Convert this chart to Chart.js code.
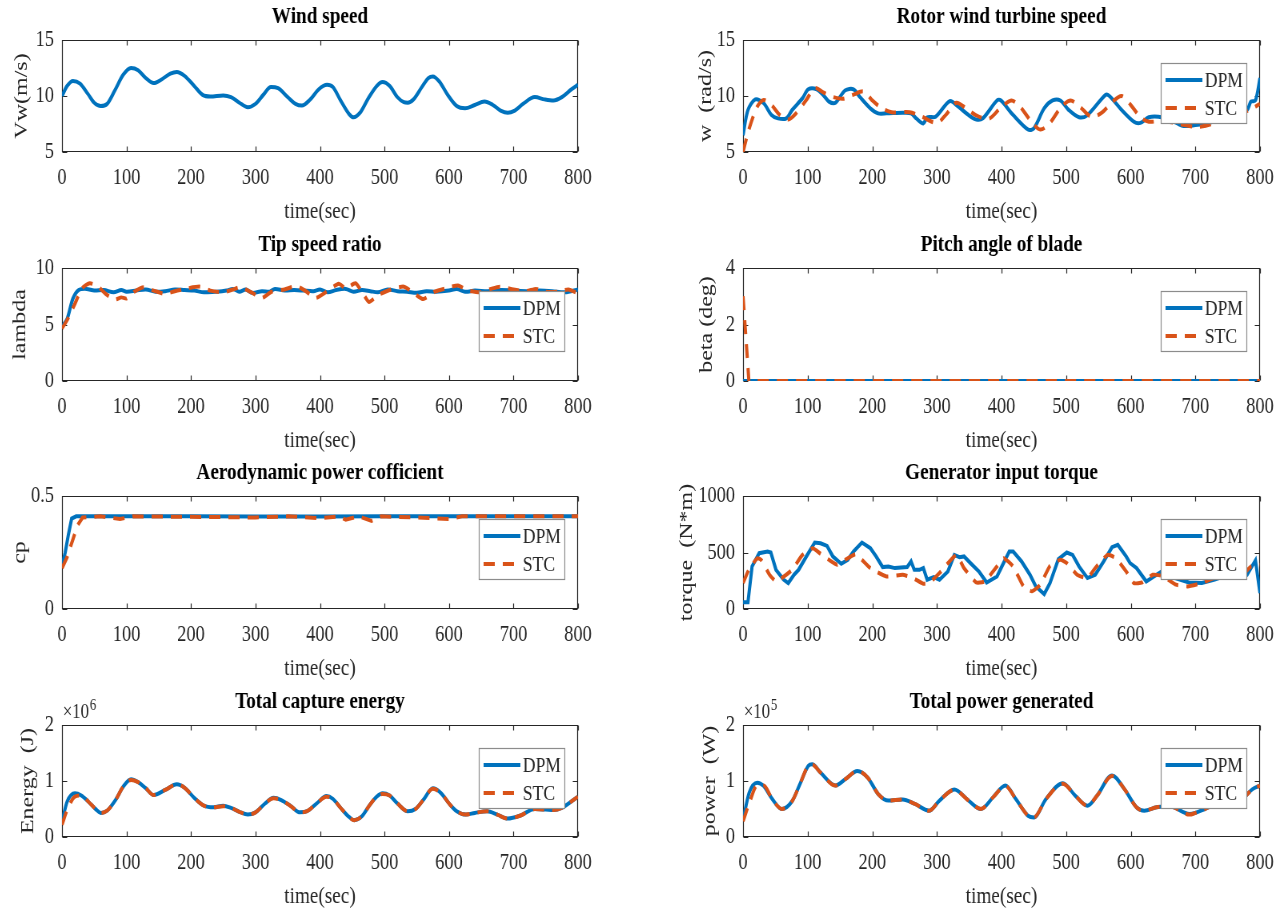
<!DOCTYPE html>
<html>
<head>
<meta charset="utf-8">
<script src="https://cdn.jsdelivr.net/npm/chart.js@4.4.1/dist/chart.umd.min.js"></script>
<style>
  html, body { margin: 0; padding: 0; background: #fff; overflow: hidden; width: 1283px; height: 909px; }
  canvas { position: absolute; }
</style>
</head>
<body>
<script>
// ---- data ----
const xTickValues = [0, 100, 200, 300, 400, 500, 600, 700, 800];

// wind speed
const windTime = [0, 8, 17, 28, 40, 50, 60, 70, 82, 95, 107, 118, 130, 142, 155, 168, 178, 190, 205, 218, 230, 250, 262, 275, 288, 300, 312, 324, 335, 350, 362, 372, 385, 398, 411, 420, 432, 445, 452, 462, 475, 488, 497, 508, 520, 530, 536, 545, 558, 568, 575, 585, 598, 612, 625, 640, 655, 668, 680, 691, 702, 715, 733, 748, 762, 775, 790, 800];
const windSpeed = [10.0, 10.9, 11.35, 11.1, 10.2, 9.4, 9.1, 9.3, 10.5, 11.9, 12.5, 12.3, 11.6, 11.15, 11.5, 12.0, 12.15, 11.8, 10.9, 10.1, 9.95, 10.05, 9.9, 9.4, 9.0, 9.3, 10.1, 10.8, 10.7, 9.9, 9.3, 9.15, 9.7, 10.6, 11.0, 10.8, 9.6, 8.4, 8.1, 8.5, 9.8, 10.9, 11.25, 10.9, 9.9, 9.45, 9.4, 9.7, 10.8, 11.6, 11.75, 11.3, 10.1, 9.1, 8.9, 9.2, 9.5, 9.2, 8.7, 8.5, 8.7, 9.3, 9.9, 9.7, 9.6, 9.9, 10.6, 11.0];
const windTicks = [5, 10, 15];

// rotor speed
const rotorTimeDpm = [0, 7.6, 19, 32, 44, 54, 67, 76, 92, 101, 114, 124, 133, 143, 158, 171, 181, 197, 209, 222, 247, 260, 268, 279, 285, 298, 320, 333, 349, 361, 371, 393, 399, 418, 441, 450, 466, 479, 491, 504, 520, 533, 561, 567, 586, 605, 615, 628, 643, 660, 680, 700, 716, 740, 760, 780, 786, 793, 800];
const rotorDpm = [6.5, 8.75, 9.7, 9.35, 8.3, 8.0, 8.0, 8.75, 9.8, 10.6, 10.6, 10.1, 9.5, 9.4, 10.5, 10.6, 9.9, 8.9, 8.45, 8.45, 8.5, 8.45, 8.0, 7.55, 8.1, 8.15, 9.55, 9.05, 8.3, 7.9, 8.0, 9.6, 9.6, 8.3, 7.0, 7.1, 8.9, 9.6, 9.6, 8.75, 8.1, 8.3, 10.1, 10.0, 8.75, 7.7, 7.6, 8.1, 8.15, 7.9, 7.35, 7.4, 7.55, 7.9, 8.3, 8.75, 9.5, 9.6, 11.6];
const rotorTimeStc = [0, 9, 22, 32, 44, 57, 70, 82, 98, 111, 125, 140, 155, 170, 187, 200, 215, 230, 258, 275, 300, 315, 330, 345, 360, 380, 398, 415, 428, 445, 460, 475, 492, 507, 522, 539, 555, 572, 586, 600, 615, 628, 650, 675, 700, 716, 740, 765, 785, 800];
const rotorStc = [5.0, 7.0, 9.05, 9.65, 9.2, 8.3, 7.9, 8.45, 9.65, 10.7, 10.3, 9.9, 9.75, 10.1, 10.4, 9.6, 8.9, 8.55, 8.55, 8.2, 7.6, 8.4, 9.4, 8.9, 8.3, 7.95, 8.9, 9.6, 9.1, 7.8, 7.0, 7.6, 9.0, 9.6, 9.0, 8.15, 8.5, 9.5, 10.0, 9.2, 8.1, 7.7, 7.8, 7.5, 7.25, 7.35, 7.8, 8.3, 8.8, 9.3];
const rotorTicks = [5, 10, 15];

// tip speed ratio
const tsrTimeDpm = [0, 8, 17, 26, 38, 50, 65, 80, 92, 100, 115, 130, 145, 160, 175, 190, 205, 220, 240, 255, 265, 275, 285, 295, 310, 322, 330, 345, 360, 375, 390, 400, 412, 425, 440, 452, 465, 478, 490, 505, 520, 535, 550, 565, 580, 600, 612, 625, 640, 660, 680, 700, 720, 740, 760, 780, 800];
const tsrDpm = [4.8, 5.5, 7.3, 8.05, 8.15, 8.0, 8.05, 7.85, 8.05, 7.9, 8.0, 8.1, 7.9, 7.95, 8.1, 8.05, 8.0, 7.85, 7.9, 8.0, 8.15, 7.9, 8.1, 7.8, 7.95, 7.9, 8.15, 8.0, 8.05, 8.0, 7.95, 8.1, 7.85, 8.05, 8.15, 7.9, 8.05, 7.95, 7.85, 8.1, 7.95, 7.9, 7.8, 7.95, 7.9, 8.0, 8.15, 7.9, 8.0, 7.95, 8.05, 8.0, 7.95, 8.0, 7.95, 7.85, 8.1];
const tsrTimeStc = [0, 8, 19, 31, 43, 55, 68, 82, 92, 100, 112, 127, 142, 160, 175, 195, 214, 230, 250, 265, 277, 295, 310, 325, 345, 363, 378, 393, 410, 429, 440, 455, 466, 476, 490, 510, 530, 545, 560, 578, 595, 614, 630, 650, 665, 679, 700, 720, 735, 750, 770, 785, 800];
const tsrStc = [4.65, 5.4, 6.7, 8.2, 8.65, 8.4, 7.7, 7.2, 7.4, 7.3, 7.9, 8.3, 8.0, 7.7, 7.95, 8.2, 8.35, 8.0, 7.85, 8.1, 8.3, 7.8, 7.35, 7.9, 8.1, 8.4, 7.95, 7.35, 7.9, 8.6, 8.2, 8.65, 7.8, 7.0, 7.6, 8.1, 8.35, 7.8, 7.25, 7.9, 8.2, 8.45, 8.0, 7.85, 8.15, 8.35, 8.1, 7.95, 8.15, 7.9, 7.9, 8.1, 7.75];
const tsrTicks = [0, 5, 10];

// pitch angle
const pitchTimeDpm = [0, 800];
const pitchDpm = [0, 0];
const pitchTimeStc = [0, 7.6, 9, 800];
const pitchStc = [3.0, 0.5, 0, 0];
const pitchTicks = [0, 2, 4];

// power coefficient
const cpTimeDpm = [0, 5, 10, 15, 22, 100, 200, 300, 400, 500, 600, 700, 800];
const cpDpm = [0.19, 0.25, 0.33, 0.40, 0.41, 0.41, 0.41, 0.409, 0.409, 0.41, 0.41, 0.41, 0.41];
const cpTimeStc = [0, 8, 16, 24, 32, 60, 90, 110, 200, 300, 350, 400, 430, 440, 460, 480, 495, 550, 600, 620, 800];
const cpStc = [0.18, 0.23, 0.30, 0.37, 0.405, 0.41, 0.398, 0.41, 0.408, 0.405, 0.41, 0.402, 0.41, 0.395, 0.41, 0.39, 0.41, 0.405, 0.398, 0.41, 0.41];
const cpTicks = [0, 0.5];

// generator torque
const torqueTimeDpm = [0, 7.6, 14, 25, 38, 43, 51, 63, 70, 79, 86, 98, 111, 120, 130, 139, 152, 162, 171, 184, 197, 206, 216, 225, 235, 254, 260, 265, 273, 279, 285, 295, 304, 317, 327, 335, 342, 352, 365, 377, 393, 403, 412, 418, 431, 444, 453, 466, 475, 488, 501, 510, 520, 533, 545, 558, 571, 580, 593, 599, 609, 624, 640, 650, 665, 690, 710, 730, 750, 765, 780, 793, 800];
const torqueDpm = [59, 59, 376, 494, 509, 500, 347, 259, 229, 303, 347, 465, 588, 582, 559, 465, 400, 435, 509, 588, 538, 465, 371, 376, 362, 371, 421, 347, 347, 362, 259, 282, 259, 332, 479, 459, 465, 406, 332, 235, 288, 406, 509, 509, 421, 303, 200, 132, 229, 441, 500, 479, 376, 274, 303, 421, 547, 568, 465, 406, 362, 244, 303, 340, 280, 235, 230, 260, 300, 310, 303, 430, 141];
const torqueTimeStc = [0, 9, 22, 28, 41, 51, 60, 76, 92, 108, 120, 133, 146, 158, 174, 184, 197, 222, 247, 263, 279, 288, 304, 330, 342, 361, 374, 393, 403, 418, 434, 447, 460, 475, 491, 501, 517, 533, 545, 564, 577, 593, 605, 618, 634, 650, 670, 688, 710, 729, 750, 773, 786, 800];
const torqueStc = [229, 347, 450, 435, 303, 244, 274, 347, 479, 538, 488, 435, 391, 435, 485, 435, 362, 288, 303, 274, 224, 229, 318, 479, 362, 235, 244, 376, 450, 376, 200, 156, 215, 382, 435, 406, 303, 274, 362, 479, 450, 332, 229, 235, 303, 290, 215, 200, 230, 274, 290, 303, 376, 391];
const torqueTicks = [0, 500, 1000];

// total capture energy (J)
const energyTime = [0, 8, 20, 30, 41, 52, 60, 70, 83, 95, 107, 118, 130, 142, 160, 178, 190, 205, 220, 235, 250, 262, 275, 288, 300, 315, 328, 340, 355, 369, 380, 395, 410, 420, 432, 445, 453, 465, 477, 488, 497, 508, 520, 536, 548, 560, 575, 588, 600, 612, 626, 640, 659, 675, 691, 710, 733, 750, 762, 775, 788, 800];
const energyDpm = [0.27e6, 0.63e6, 0.78e6, 0.74e6, 0.63e6, 0.50e6, 0.43e6, 0.47e6, 0.66e6, 0.90e6, 1.03e6, 0.98e6, 0.87e6, 0.75e6, 0.84e6, 0.94e6, 0.88e6, 0.70e6, 0.56e6, 0.53e6, 0.56e6, 0.52e6, 0.45e6, 0.40e6, 0.44e6, 0.60e6, 0.70e6, 0.66e6, 0.55e6, 0.44e6, 0.46e6, 0.60e6, 0.73e6, 0.68e6, 0.52e6, 0.36e6, 0.30e6, 0.37e6, 0.57e6, 0.72e6, 0.78e6, 0.74e6, 0.60e6, 0.46e6, 0.50e6, 0.66e6, 0.87e6, 0.78e6, 0.60e6, 0.46e6, 0.40e6, 0.43e6, 0.46e6, 0.40e6, 0.33e6, 0.38e6, 0.50e6, 0.49e6, 0.48e6, 0.52e6, 0.62e6, 0.72e6];
const energyStc = [0.22e6, 0.48e6, 0.72e6, 0.74e6, 0.63e6, 0.50e6, 0.43e6, 0.47e6, 0.66e6, 0.90e6, 1.02e6, 0.98e6, 0.87e6, 0.75e6, 0.84e6, 0.94e6, 0.88e6, 0.70e6, 0.56e6, 0.53e6, 0.55e6, 0.52e6, 0.45e6, 0.40e6, 0.44e6, 0.60e6, 0.69e6, 0.66e6, 0.55e6, 0.44e6, 0.46e6, 0.60e6, 0.72e6, 0.68e6, 0.52e6, 0.36e6, 0.30e6, 0.37e6, 0.57e6, 0.72e6, 0.77e6, 0.74e6, 0.60e6, 0.46e6, 0.50e6, 0.66e6, 0.86e6, 0.78e6, 0.60e6, 0.46e6, 0.40e6, 0.43e6, 0.46e6, 0.40e6, 0.33e6, 0.38e6, 0.50e6, 0.49e6, 0.48e6, 0.52e6, 0.62e6, 0.72e6];
const energyTicks = [0, 1e6, 2e6];

// total power generated (W)
const powerTime = [0, 9.5, 22, 32, 44, 60, 76, 89, 101, 107, 120, 143, 158, 177, 193, 209, 225, 247, 266, 288, 304, 327, 349, 368, 387, 406, 422, 441, 450, 469, 495, 514, 533, 548, 571, 590, 609, 621, 640, 660, 691, 700, 715, 733, 750, 762, 775, 788, 800];
const powerDpm = [0.30e5, 0.79e5, 0.97e5, 0.91e5, 0.70e5, 0.50e5, 0.64e5, 0.97e5, 1.27e5, 1.30e5, 1.15e5, 0.92e5, 1.03e5, 1.18e5, 1.06e5, 0.77e5, 0.65e5, 0.67e5, 0.59e5, 0.47e5, 0.65e5, 0.85e5, 0.65e5, 0.50e5, 0.71e5, 0.92e5, 0.68e5, 0.38e5, 0.35e5, 0.68e5, 0.96e5, 0.74e5, 0.56e5, 0.74e5, 1.10e5, 0.86e5, 0.53e5, 0.47e5, 0.53e5, 0.55e5, 0.41e5, 0.43e5, 0.50e5, 0.58e5, 0.57e5, 0.60e5, 0.70e5, 0.85e5, 0.92e5];
const powerStc = [0.28e5, 0.60e5, 0.92e5, 0.92e5, 0.70e5, 0.50e5, 0.64e5, 0.97e5, 1.27e5, 1.29e5, 1.15e5, 0.92e5, 1.03e5, 1.18e5, 1.06e5, 0.77e5, 0.65e5, 0.67e5, 0.59e5, 0.47e5, 0.65e5, 0.84e5, 0.65e5, 0.50e5, 0.71e5, 0.91e5, 0.68e5, 0.38e5, 0.35e5, 0.68e5, 0.95e5, 0.74e5, 0.56e5, 0.74e5, 1.09e5, 0.86e5, 0.53e5, 0.47e5, 0.53e5, 0.55e5, 0.40e5, 0.43e5, 0.50e5, 0.58e5, 0.57e5, 0.60e5, 0.70e5, 0.85e5, 0.92e5];
const powerTicks = [0, 1e5, 2e5];

// ---- layout / style ----
const BLUE = '#0072BD', ORANGE = '#D95319', INK = '#262626';
const SERIF = "'Liberation Serif', 'Times New Roman', Times, serif";
// the figure is squeezed sideways: draw wide, show narrow
const SX = 0.8;
const AXIS_W = 100;            // internal px, 80 px on screen
const TITLE_H = 40, XAXIS_H = 75;
const COLS = [{ left: 62, right: 578 }, { left: 743, right: 1260 }];
const ROWS = [{ top: 40, bottom: 152 }, { top: 268, bottom: 381 }, { top: 496, bottom: 609 }, { top: 725, bottom: 837 }];

function pts(ts, vs) { return ts.map((t, i) => ({ x: t, y: vs[i] })); }

function series(label, ts, vs, smooth) {
  const ds = {
    label: label, data: pts(ts, vs), yAxisID: 'y', borderWidth: 4, pointRadius: 0, fill: false,
    borderColor: label === 'STC' ? ORANGE : BLUE,
    order: label === 'STC' ? 1 : 2
  };
  if (label === 'STC') ds.borderDash = [14, 10];
  if (smooth === 'monotone') ds.cubicInterpolationMode = 'monotone';
  else ds.tension = smooth || 0;
  return ds;
}

// box, inward ticks, legend and exponent, MATLAB style
const axesBox = {
  id: 'axesBox',
  beforeDatasetsDraw(chart) {
    const { ctx, chartArea: a, scales } = chart;
    const L = Math.round(a.left) + 0.5, R = Math.round(a.right) - 0.5;
    const T = Math.round(a.top) + 0.5, B = Math.round(a.bottom) - 0.5;
    ctx.save();
    ctx.strokeStyle = INK;
    ctx.lineWidth = 1.2;
    ctx.beginPath();
    ctx.rect(L, T, R - L, B - T);
    scales.x.ticks.forEach(t => {
      const px = Math.round(scales.x.getPixelForValue(t.value)) + 0.5;
      ctx.moveTo(px, B); ctx.lineTo(px, B - 5);
      ctx.moveTo(px, T); ctx.lineTo(px, T + 5);
    });
    scales.y.ticks.forEach(t => {
      const py = Math.round(scales.y.getPixelForValue(t.value)) + 0.5;
      ctx.moveTo(L, py); ctx.lineTo(L + 6, py);
      ctx.moveTo(R, py); ctx.lineTo(R - 6, py);
    });
    ctx.stroke();
    ctx.restore();
  },
  afterDatasetsDraw(chart, args, opts) {
    const { ctx, chartArea: a } = chart;
    ctx.save();
    if (opts.exponent) {
      ctx.fillStyle = INK;
      ctx.textAlign = 'left';
      ctx.textBaseline = 'alphabetic';
      ctx.font = '21px ' + SERIF;
      ctx.fillText('\u00d710', a.left + 1, a.top - 7);
      const w = ctx.measureText('\u00d710').width;
      ctx.font = '16px ' + SERIF;
      ctx.fillText(opts.exponent, a.left + 2 + w, a.top - 15);
    }
    if (opts.legend) {
      const bw = 108, bh = 61;
      const bx = Math.round(a.right) - 16 - bw, by = Math.round(a.top) + 23;
      ctx.fillStyle = '#fff';
      ctx.fillRect(bx, by, bw, bh);
      ctx.strokeStyle = '#8c8c8c';
      ctx.lineWidth = 1.2;
      ctx.strokeRect(bx + 0.5, by + 0.5, bw - 1, bh - 1);
      chart.data.datasets.forEach((ds, i) => {
        const cy = by + 17 + i * 28;
        ctx.strokeStyle = ds.borderColor;
        ctx.lineWidth = ds.borderWidth;
        ctx.setLineDash(ds.borderDash || []);
        ctx.beginPath();
        ctx.moveTo(bx + 6, cy);
        ctx.lineTo(bx + 52, cy);
        ctx.stroke();
        ctx.setLineDash([]);
        ctx.fillStyle = INK;
        ctx.font = '22px ' + SERIF;
        ctx.textAlign = 'left';
        ctx.textBaseline = 'middle';
        ctx.fillText(ds.label, bx + 55, cy + 1);
      });
    }
    ctx.restore();
  }
};

function panel(col, row, cfg) {
  const c = COLS[col], r = ROWS[row];
  const plotW = Math.round((c.right - c.left) / SX);
  const w = plotW + 2 * AXIS_W;
  const h = TITLE_H + (r.bottom - r.top) + XAXIS_H;
  const cv = document.createElement('canvas');
  cv.width = w;
  cv.height = h;
  cv.style.left = (c.left - AXIS_W * SX) + 'px';
  cv.style.top = (r.top - TITLE_H) + 'px';
  cv.style.width = (w * SX) + 'px';
  cv.style.height = h + 'px';
  document.body.appendChild(cv);

  const div = cfg.div || 1;
  const yFont = 24;
  const yCenter = (80 - cfg.yGap) / SX;
  new Chart(cv, {
    type: 'line',
    data: { datasets: cfg.datasets },
    options: {
      responsive: false,
      animation: false,
      devicePixelRatio: 1,
      layout: { padding: 0 },
      plugins: {
        legend: { display: false },
        tooltip: { enabled: false },
        title: {
          display: true, text: cfg.title, color: '#000',
          font: { family: SERIF, size: 24, weight: 'bold' },
          padding: { top: 2.6, bottom: 8.6 }
        },
        axesBox: { legend: cfg.legend !== false, exponent: cfg.exponent }
      },
      scales: {
        x: {
          type: 'linear', min: 0, max: 800,
          afterFit: s => { s.height = XAXIS_H; },
          afterBuildTicks: s => { s.ticks = xTickValues.map(v => ({ value: v })); },
          ticks: { padding: 12.2, color: INK, font: { family: SERIF, size: 23 }, maxRotation: 0, autoSkip: false },
          grid: { display: false, drawTicks: false },
          border: { display: false },
          title: { display: true, text: 'time(sec)', color: INK, font: { family: SERIF, size: 24 }, padding: { top: 0, bottom: 0.6 } }
        },
        y: {
          type: 'linear', position: 'left', min: cfg.ticks[0], max: cfg.ticks[cfg.ticks.length - 1],
          afterFit: s => { s.width = AXIS_W; },
          afterBuildTicks: s => { s.ticks = cfg.ticks.map(v => ({ value: v })); },
          ticks: { padding: 10, color: INK, font: { family: SERIF, size: 23 }, callback: v => String(Math.round(v / div * 100) / 100) },
          grid: { display: false, drawTicks: false },
          border: { display: false },
          title: {
            display: true, text: cfg.yLabel, color: INK, font: { family: SERIF, size: yFont },
            padding: { top: yCenter - yFont * 0.6, bottom: 0 }
          }
        },
        // empty right-hand band so the title centres over the plot
        yR: {
          type: 'linear', axis: 'y', position: 'right',
          afterFit: s => { s.width = AXIS_W; },
          ticks: { display: false },
          grid: { display: false, drawTicks: false },
          border: { display: false }
        }
      }
    },
    plugins: [axesBox]
  });
}

panel(0, 0, { title: 'Wind speed', yLabel: 'Vw(m/s)', yGap: 40, ticks: windTicks, legend: false,
  datasets: [series('Vw', windTime, windSpeed, 'monotone')] });
panel(1, 0, { title: 'Rotor wind turbine speed', yLabel: 'w  (rad/s)', yGap: 37, ticks: rotorTicks,
  datasets: [series('DPM', rotorTimeDpm, rotorDpm, 0.3), series('STC', rotorTimeStc, rotorStc, 0.3)] });
panel(0, 1, { title: 'Tip speed ratio', yLabel: 'lambda', yGap: 42, ticks: tsrTicks,
  datasets: [series('DPM', tsrTimeDpm, tsrDpm, 0.3), series('STC', tsrTimeStc, tsrStc, 0.2)] });
panel(1, 1, { title: 'Pitch angle of blade', yLabel: 'beta (deg)', yGap: 36, ticks: pitchTicks,
  datasets: [series('DPM', pitchTimeDpm, pitchDpm, 0), series('STC', pitchTimeStc, pitchStc, 0)] });
panel(0, 2, { title: 'Aerodynamic power cofficient', yLabel: 'cp', yGap: 42, ticks: cpTicks,
  datasets: [series('DPM', cpTimeDpm, cpDpm, 0), series('STC', cpTimeStc, cpStc, 0)] });
panel(1, 2, { title: 'Generator input torque', yLabel: 'torque  (N*m)', yGap: 56, ticks: torqueTicks,
  datasets: [series('DPM', torqueTimeDpm, torqueDpm, 0), series('STC', torqueTimeStc, torqueStc, 0.15)] });
panel(0, 3, { title: 'Total capture energy', yLabel: 'Energy  (J)', yGap: 34, ticks: energyTicks, div: 1e6, exponent: '6',
  datasets: [series('DPM', energyTime, energyDpm, 'monotone'), series('STC', energyTime, energyStc, 'monotone')] });
panel(1, 3, { title: 'Total power generated', yLabel: 'power  (W)', yGap: 33, ticks: powerTicks, div: 1e5, exponent: '5',
  datasets: [series('DPM', powerTime, powerDpm, 'monotone'), series('STC', powerTime, powerStc, 'monotone')] });
</script>
</body>
</html>
